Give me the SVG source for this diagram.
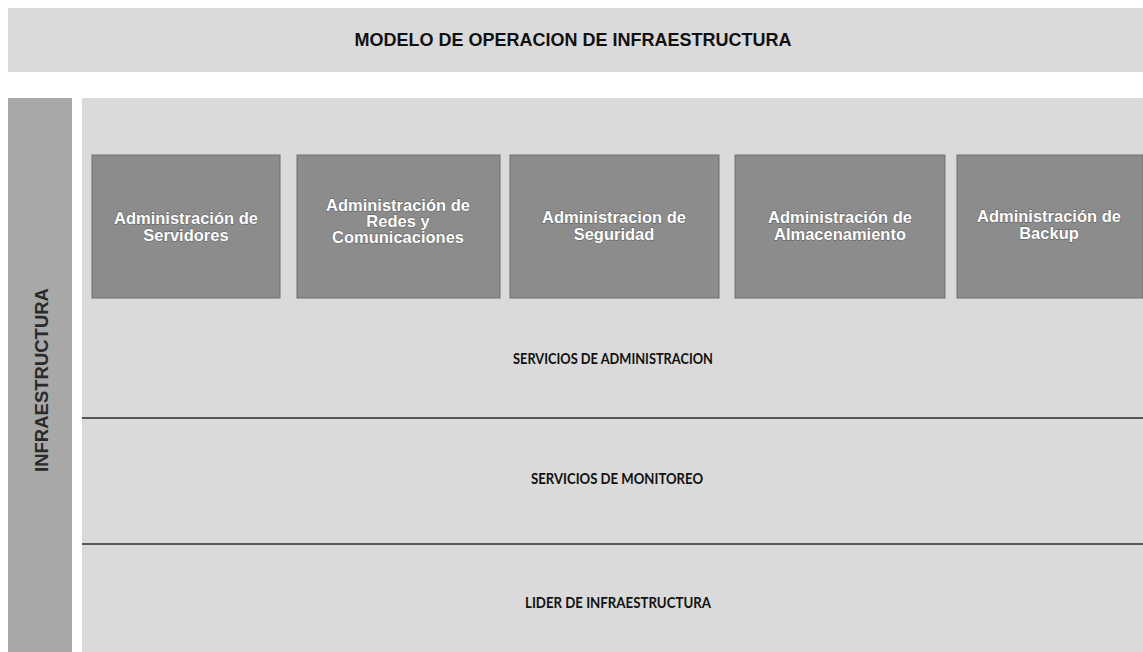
<svg xmlns="http://www.w3.org/2000/svg" width="1143" height="652" viewBox="0 0 1143 652">
  <style>
    .panel { fill: #dadada; }
    .bar { fill: #a8a8a8; }
    .box { fill: #8c8c8c; stroke: #6e6e6e; stroke-width: 1; }
    .sep { stroke: #2a2a2a; stroke-width: 1.3; }
    .title { font-family: "Liberation Sans", Arial, sans-serif; font-weight: bold; font-size: 18px; fill: #111; text-anchor: middle; }
    .vert { font-family: "Liberation Sans", Arial, sans-serif; font-weight: bold; font-size: 18.5px; fill: #2a2a2a; text-anchor: middle; }
    .boxtxt { font-family: "Liberation Sans", Arial, sans-serif; font-weight: bold; font-size: 16.5px; fill: #ffffff; text-anchor: middle; stroke: #555; stroke-width: 0.8; paint-order: stroke; }
    .layer { font-family: Lato, "Liberation Sans", sans-serif; font-weight: bold; font-size: 15px; fill: #111; text-anchor: middle; }
  </style>
  <rect width="1143" height="652" fill="#ffffff"/>

  <g id="banner">
    <rect class="panel" x="8" y="8" width="1135" height="64"/>
    <text class="title" x="573" y="46">MODELO DE OPERACION DE INFRAESTRUCTURA</text>
  </g>

  <g id="infraestructura-bar">
    <rect class="bar" x="8" y="98" width="64" height="554"/>
    <text class="vert" transform="translate(48,380) rotate(-90)">INFRAESTRUCTURA</text>
  </g>

  <g id="main-panel">
    <rect class="panel" x="82" y="98" width="1061" height="554"/>
  </g>

  <g id="separators">
    <line class="sep" x1="82" y1="418" x2="1143" y2="418"/>
    <line class="sep" x1="82" y1="544" x2="1143" y2="544"/>
  </g>

  <g id="connectors"></g>

  <g id="node-servidores">
    <rect class="box" x="92" y="155" width="188" height="143"/>
    <text class="boxtxt" x="186" y="224">Administración de</text>
    <text class="boxtxt" x="186" y="241">Servidores</text>
  </g>

  <g id="node-redes">
    <rect class="box" x="297" y="155" width="203" height="143"/>
    <text class="boxtxt" x="398" y="211">Administración de</text>
    <text class="boxtxt" x="398" y="227">Redes y</text>
    <text class="boxtxt" x="398" y="243">Comunicaciones</text>
  </g>

  <g id="node-seguridad">
    <rect class="box" x="510" y="155" width="209" height="143"/>
    <text class="boxtxt" x="614" y="223">Administracion de</text>
    <text class="boxtxt" x="614" y="240">Seguridad</text>
  </g>

  <g id="node-almacenamiento">
    <rect class="box" x="735" y="155" width="210" height="143"/>
    <text class="boxtxt" x="840" y="223">Administración de</text>
    <text class="boxtxt" x="840" y="240">Almacenamiento</text>
  </g>

  <g id="node-backup">
    <rect class="box" x="957" y="155" width="186" height="143"/>
    <text class="boxtxt" x="1049" y="222">Administración de</text>
    <text class="boxtxt" x="1049" y="239">Backup</text>
  </g>

  <g id="layer-administracion">
    <text class="layer" x="613" y="364" textLength="200" lengthAdjust="spacingAndGlyphs">SERVICIOS DE ADMINISTRACION</text>
  </g>

  <g id="layer-monitoreo">
    <text class="layer" x="617" y="484" textLength="172" lengthAdjust="spacingAndGlyphs">SERVICIOS DE MONITOREO</text>
  </g>

  <g id="layer-lider">
    <text class="layer" x="618" y="608" textLength="186" lengthAdjust="spacingAndGlyphs">LIDER DE INFRAESTRUCTURA</text>
  </g>
</svg>
